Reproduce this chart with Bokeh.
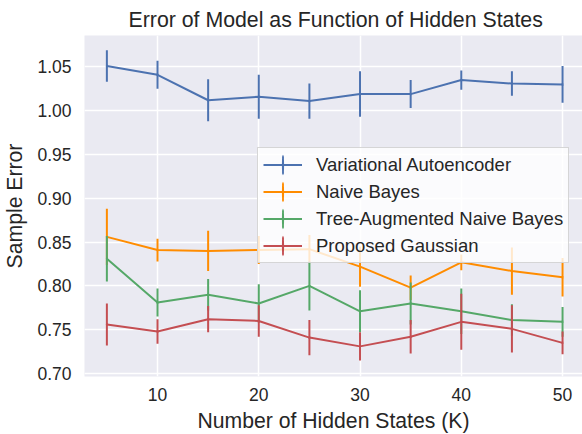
from bokeh.plotting import figure
from bokeh.models import ColumnDataSource, Legend, LegendItem, FixedTicker, NumeralTickFormatter, Range1d
from bokeh.embed import file_html
from bokeh.resources import INLINE

# ---- data ----
hidden_states = [5, 10, 15, 20, 25, 30, 35, 40, 45, 50]

vae_mean = [1.051, 1.041, 1.012, 1.016, 1.011, 1.019, 1.019, 1.035, 1.031, 1.030]
vae_err = [0.018, 0.016, 0.024, 0.025, 0.020, 0.026, 0.016, 0.011, 0.014, 0.021]

nb_mean = [0.856, 0.841, 0.840, 0.841, 0.842, 0.822, 0.798, 0.827, 0.817, 0.810]
nb_err = [0.032, 0.013, 0.023, 0.016, 0.016, 0.023, 0.014, 0.009, 0.027, 0.022]

tan_mean = [0.831, 0.781, 0.790, 0.780, 0.800, 0.771, 0.780, 0.771, 0.761, 0.759]
tan_err = [0.026, 0.016, 0.018, 0.022, 0.028, 0.024, 0.024, 0.026, 0.018, 0.017]

gauss_mean = [0.756, 0.748, 0.762, 0.760, 0.741, 0.731, 0.742, 0.759, 0.751, 0.735]
gauss_err = [0.024, 0.014, 0.015, 0.018, 0.020, 0.016, 0.019, 0.032, 0.027, 0.013]

series_names = ["Variational Autoencoder", "Naive Bayes",
                "Tree-Augmented Naive Bayes", "Proposed Gaussian"]
series_colors = ["#4C72B0", "#FF8C00", "#55A868", "#C44E52"]

x_ticks = [10, 20, 30, 40, 50]
y_ticks = [0.70, 0.75, 0.80, 0.85, 0.90, 0.95, 1.00, 1.05]

title_text = "Error of Model as Function of Hidden States"
x_label = "Number of Hidden States (K)"
y_label = "Sample Error"

FONT = "Liberation Sans"
TEXT_COLOR = "#262626"

p = figure(width=582, height=434, output_backend="svg", toolbar_location=None,
           x_range=Range1d(2.79, 51.97), y_range=Range1d(0.6966, 1.0859),
           min_border_left=84, min_border_right=0, min_border_top=35, min_border_bottom=56,
           title=title_text)

p.background_fill_color = "#EAEAF2"
p.border_fill_color = "white"
p.outline_line_color = None

p.title.text_font = FONT
p.title.text_font_style = "normal"
p.title.text_font_size = "21.3px"
p.title.text_color = TEXT_COLOR
p.title.align = "left"
p.title.offset = 44
p.title.standoff = 8

for ax in (p.xaxis[0], p.yaxis[0]):
    ax.axis_line_color = None
    ax.major_tick_line_color = None
    ax.minor_tick_line_color = None
    ax.major_tick_in = 0
    ax.major_tick_out = 0
    ax.major_label_text_font = FONT
    ax.major_label_text_font_size = "17.5px"
    ax.major_label_text_color = TEXT_COLOR
    ax.axis_label_text_font = FONT
    ax.axis_label_text_font_style = "normal"
    ax.axis_label_text_font_size = "21.2px"
    ax.axis_label_text_color = TEXT_COLOR

p.xaxis.ticker = FixedTicker(ticks=x_ticks)
p.yaxis.ticker = FixedTicker(ticks=y_ticks)
p.yaxis.formatter = NumeralTickFormatter(format="0.00")
p.xaxis.axis_label = x_label
p.yaxis.axis_label = y_label
p.xaxis.major_label_standoff = 11
p.xaxis.axis_label_standoff = 5
p.xaxis.axis_label_text_line_height = 1.0
p.yaxis.major_label_standoff = 13
p.yaxis.axis_label_standoff = 8

p.xgrid.grid_line_color = "white"
p.ygrid.grid_line_color = "white"
p.xgrid.grid_line_width = 1.5
p.ygrid.grid_line_width = 1.5

means = [vae_mean, nb_mean, tan_mean, gauss_mean]
errs = [vae_err, nb_err, tan_err, gauss_err]

items = []
for name, color, m, e in zip(series_names, series_colors, means, errs):
    src = ColumnDataSource(dict(
        x=hidden_states, y=m,
        lo=[a - b for a, b in zip(m, e)],
        hi=[a + b for a, b in zip(m, e)],
    ))
    line_r = p.line("x", "y", source=src, line_color=color, line_width=2)
    p.segment(x0="x", y0="lo", x1="x", y1="hi", source=src, line_color=color, line_width=2)
    tick_r = p.ellipse(x="x", y="y", width=0.01, height=1, width_units="screen",
                       height_units="screen", source=src, fill_color=None,
                       line_color=color, line_width=2)
    items.append(LegendItem(label=name, renderers=[line_r, tick_r]))

legend = Legend(items=items, location=(173, 113),
                label_text_font=FONT, label_text_font_size="18.5px",
                label_text_color=TEXT_COLOR,
                glyph_width=39, glyph_height=23, label_height=23,
                label_standoff=14, spacing=4, padding=5, margin=0,
                background_fill_color="white", background_fill_alpha=0.8,
                border_line_color="#cccccc", border_line_alpha=0.8, border_line_width=1)
p.add_layout(legend)

open("out.html", "w").write(file_html(p, INLINE))
